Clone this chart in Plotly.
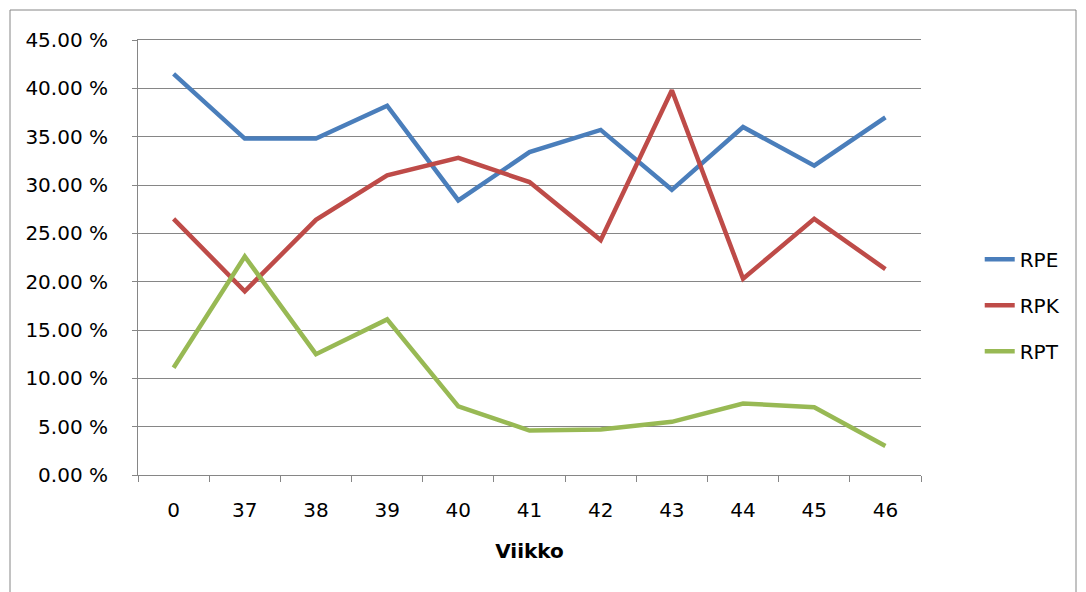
import plotly.graph_objects as go

weeks = ["0", "37", "38", "39", "40", "41", "42", "43", "44", "45", "46"]
rpe = [41.5, 34.8, 34.8, 38.2, 28.4, 33.4, 35.7, 29.5, 36.0, 32.0, 37.0]
rpk = [26.5, 19.0, 26.4, 31.0, 32.8, 30.3, 24.3, 39.8, 20.3, 26.5, 21.3]
rpt = [11.1, 22.6, 12.5, 16.1, 7.1, 4.6, 4.7, 5.5, 7.4, 7.0, 3.0]
series = [("RPE", rpe, "#4A7EBB"), ("RPK", rpk, "#BE4B48"), ("RPT", rpt, "#98B954")]

FONT = "DejaVu Sans"
FS = 20
OFF = 8  # page body margin
PW, PH = 783, 435
L, T = 138 - OFF, 40 - OFF
W, H = 1086 - OFF, 592 - OFF

fig = go.Figure()
for i, (name, vals, col) in enumerate(series):
    fig.add_trace(go.Scatter(x=weeks, y=vals, name=name, mode="lines",
                             line=dict(color=col, width=4.5), legendgroup=str(i)))

fig.update_layout(
    width=W, height=H,
    margin=dict(l=L, r=W - L - PW, t=T, b=H - T - PH, autoexpand=False),
    paper_bgcolor="white", plot_bgcolor="white",
    font=dict(family=FONT, size=FS, color="black"),
    showlegend=True,
    legend=dict(x=1.075, y=0.39, xanchor="left", yanchor="middle",
                font=dict(size=FS), tracegroupgap=17, bgcolor="rgba(0,0,0,0)"),
    xaxis=dict(type="category", range=[-0.5, 10.5], tickson="boundaries",
               showgrid=False, showline=True, linecolor="#868686", linewidth=1,
               mirror=True,
               ticks="outside", ticklen=6, tickcolor="#868686",
               ticklabelstandoff=17,
               title=dict(text="<b>Viikko</b>", font=dict(size=FS), standoff=22),
               tickfont=dict(size=FS)),
    yaxis=dict(range=[0, 45], dtick=5, tickformat=".2f", ticksuffix=" %",
               showgrid=True, gridcolor="#868686", gridwidth=1,
               showline=True, linecolor="#868686", linewidth=1,
               ticks="outside", ticklen=5, tickcolor="#868686",
               ticklabelstandoff=20,
               zeroline=False, tickfont=dict(size=FS)),
)
fig.add_shape(type="rect", xref="paper", yref="paper",
              x0=(10 - 138) / PW, x1=(1076 - 138) / PW,
              y0=-0.5, y1=1 + 30 / PH,
              line=dict(color="#868686", width=1), fillcolor="rgba(0,0,0,0)", layer="below")
fig.write_html("out.html")
